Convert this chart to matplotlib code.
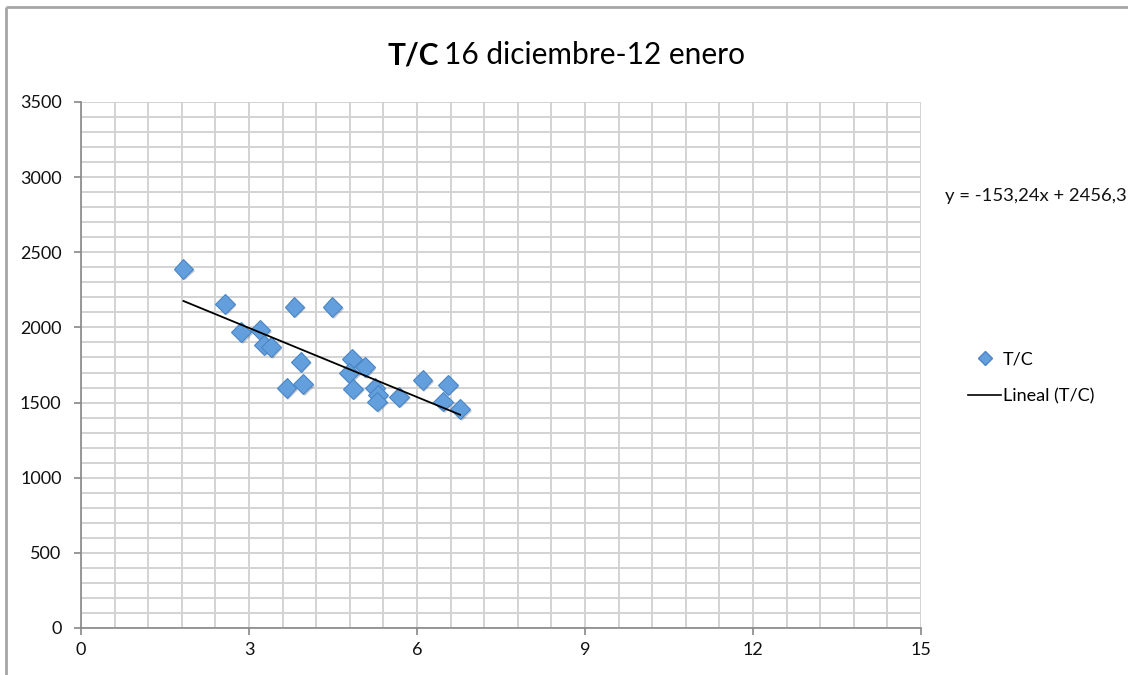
import matplotlib
matplotlib.use("Agg")
import matplotlib.pyplot as plt
from matplotlib.lines import Line2D
import matplotlib.patheffects as pe
import numpy as np

plt.rcParams['font.family'] = ['Lato', 'DejaVu Sans']

# Data
tc_x = [1.83, 2.57, 2.86, 3.20, 3.27, 3.39, 3.81, 3.92, 3.67, 3.97, 4.49,
        4.84, 5.07, 4.79, 4.86, 5.25, 5.30, 5.29, 5.68, 6.10, 6.55, 6.47, 6.77]
tc_y = [2389, 2156, 1968, 1983, 1883, 1868, 2138, 1772, 1595, 1622, 2134,
        1790, 1735, 1695, 1592, 1595, 1550, 1506, 1539, 1650, 1617, 1506, 1457]
slope = -153.24
intercept = 2456.3
x_ticks = [0, 3, 6, 9, 12, 15]
y_ticks = [0, 500, 1000, 1500, 2000, 2500, 3000, 3500]
series_name = "T/C"
trend_name = "Lineal (T/C)"
equation = "y = -153,24x + 2456,3"

W, H = 1128, 675
fig = plt.figure(figsize=(W / 100, H / 100), dpi=100)
fig.patch.set_edgecolor('white')
fig.patch.set_linewidth(0)
ax = fig.add_axes([81 / W, 1 - 628 / H, (921 - 81) / W, (628 - 102) / H])

# chart frame (left and top edges only visible)
fig.add_artist(Line2D([6 / W, 6 / W], [0, 1 - 7 / H], transform=fig.transFigure,
                      color='#A6A6A6', linewidth=2.0, solid_capstyle='butt'))
fig.add_artist(Line2D([6 / W, 1127.5 / W], [1 - 7 / H, 1 - 7 / H], transform=fig.transFigure,
                      color='#A6A6A6', linewidth=2.0, solid_capstyle='butt'))

ax.set_xlim(0, 15)
ax.set_ylim(0, 3500)
ax.set_xticks(x_ticks)
ax.set_yticks(y_ticks)
ax.set_xticks(np.arange(0, 15.01, 0.6), minor=True)
ax.set_yticks(np.arange(0, 3501, 100), minor=True)
ax.grid(True, which='both', color='#D3D3D3', linewidth=1.4)
ax.set_axisbelow(True)
ax.tick_params(axis='both', which='minor', length=0)
ax.tick_params(axis='both', which='major', length=5, width=1.2, color='#888888',
               labelsize=13, labelcolor='#111111')
ax.tick_params(axis='y', pad=9)
ax.tick_params(axis='x', pad=5)
for s in ['top', 'right']:
    ax.spines[s].set_visible(False)
for s in ['left', 'bottom']:
    ax.spines[s].set_color('#888888')
    ax.spines[s].set_linewidth(1.2)

shadow = [pe.SimplePatchShadow(offset=(1.2, -1.2), alpha=0.25), pe.Normal()]
ax.plot(tc_x, tc_y, linestyle='none', marker='D', markersize=10,
        markerfacecolor='#649FDD', markeredgecolor='#4A86C5', markeredgewidth=0.8,
        path_effects=shadow, zorder=3)

xs = np.array([min(tc_x), max(tc_x)])
ax.plot(xs, slope * xs + intercept, color='black', linewidth=1.3, zorder=4)

fig.text(945 / W, 1 - 196 / H, equation, fontsize=13.3, va='center', ha='left',
         color='#111111')

# title
t1 = fig.text(387 / W, 1 - 55 / H, "T/C", fontsize=21.5, fontweight='bold',
              va='center', ha='left')
fig.canvas.draw()
bb = t1.get_window_extent()
fig.text(bb.x1 / W + 6 / W, 1 - 55 / H, "16 diciembre-12 enero", fontsize=21.5,
         va='center', ha='left')

handles = [Line2D([], [], linestyle='none', marker='D', markersize=7,
                  markerfacecolor='#649FDD', markeredgecolor='#4A86C5'),
           Line2D([], [], color='black', linewidth=1.2)]
fig.legend(handles, [series_name, trend_name], loc='center left',
           bbox_to_anchor=(968 / W, 1 - 378 / H), frameon=False, fontsize=13,
           handlelength=1.85, handletextpad=0.1, labelspacing=1.15,
           borderpad=0, borderaxespad=0)

fig.savefig("out.png", dpi=100, facecolor='white', edgecolor='none')
